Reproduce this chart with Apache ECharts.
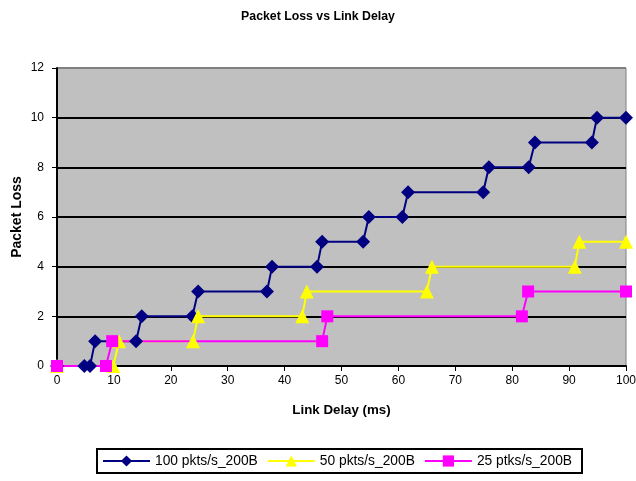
<!DOCTYPE html>
<html><head><meta charset="utf-8">
<script src="https://cdn.jsdelivr.net/npm/echarts@6/dist/echarts.min.js"></script>
<style>html,body{margin:0;padding:0;background:#fff}#c{width:636px;height:481px}</style>
</head><body><div id="c"></div>
<script>
const seriesNames = ['100 pkts/s_200B', '50 pkts/s_200B', '25 ptks/s_200B'];
const delay100 = [0, 4.8, 5.8, 6.7, 13.9, 14.9, 23.8, 24.8, 36.9, 37.8, 45.7, 46.6, 53.8, 54.8, 60.7, 61.7, 74.9, 75.9, 82.9, 84.0, 94.0, 94.9, 100];
const loss100  = [0, 0, 0, 1, 1, 2, 2, 3, 3, 4, 4, 5, 5, 6, 6, 7, 7, 8, 8, 9, 9, 10, 10];
const delay50 = [0, 9.9, 10.9, 23.9, 24.8, 43.1, 43.9, 65.0, 65.9, 91.0, 91.8, 100];
const loss50  = [0, 0, 1, 1, 2, 2, 3, 3, 4, 4, 5, 5];
const delay25 = [0, 8.6, 9.7, 46.6, 47.5, 81.7, 82.8, 100];
const loss25  = [0, 0, 1, 1, 2, 2, 3, 3];
const xTicks = [0, 10, 20, 30, 40, 50, 60, 70, 80, 90, 100];
const yTicks = [0, 2, 4, 6, 8, 10, 12];

const pair = (xs, ys) => xs.map((x, i) => [x, ys[i]]);
const font = 'Liberation Sans, Arial, sans-serif';
const chart = echarts.init(document.getElementById('c'), null, {renderer: 'canvas'});
chart.setOption({
  animation: false,
  backgroundColor: '#fff',
  title: {text: 'Packet Loss vs Link Delay', left: 'center', top: 6,
    textStyle: {fontFamily: font, fontSize: 12.3, fontWeight: 'bold', color: '#000'}},
  grid: {left: 57, right: 10, top: 68, bottom: 115, show: true, containLabel: false,
    outerBoundsMode: 'none',
    backgroundColor: '#C0C0C0', borderColor: '#808080', borderWidth: 1},
  xAxis: {type: 'value', min: xTicks[0], max: xTicks[xTicks.length - 1], interval: 10,
    name: 'Link Delay (ms)', nameLocation: 'middle', nameGap: 38, nameMoveOverlap: false,
    nameTextStyle: {fontFamily: font, fontSize: 13.3, fontWeight: 'bold', color: '#000'},
    axisLine: {lineStyle: {color: '#000', width: 2}},
    axisTick: {length: 5, lineStyle: {color: '#000', width: 1}},
    axisLabel: {fontFamily: font, fontSize: 12, color: '#000', margin: 9},
    splitLine: {show: false}},
  yAxis: {type: 'value', min: yTicks[0], max: yTicks[yTicks.length - 1], interval: 2,
    name: 'Packet Loss', nameLocation: 'middle', nameGap: 33, nameMoveOverlap: false,
    nameTextStyle: {fontFamily: font, fontSize: 14, fontWeight: 'bold', color: '#000'},
    axisLine: {show: true, lineStyle: {color: '#000', width: 2}},
    axisTick: {show: true, length: 5, lineStyle: {color: '#000', width: 1}},
    axisLabel: {fontFamily: font, fontSize: 12, color: '#000', margin: 13},
    splitLine: {show: true, lineStyle: {color: ['#000', '#000', '#000', '#000', '#000', '#000', '#808080'], width: 2}}},
  legend: {left: 97, top: 449, orient: 'horizontal',
    padding: [5, 10, 5, 5], borderColor: '#000', borderWidth: 2, backgroundColor: '#fff',
    itemWidth: 47, itemHeight: 14, itemGap: 9,
    textStyle: {fontFamily: font, fontSize: 13.8, color: '#000'},
    data: seriesNames},
  series: [
    {name: seriesNames[0], type: 'line', data: pair(delay100, loss100),
     symbol: 'diamond', symbolSize: 14, color: '#000080',
     lineStyle: {width: 2, color: '#000080'}, itemStyle: {color: '#000080'}},
    {name: seriesNames[1], type: 'line', data: pair(delay50, loss50),
     symbol: 'triangle', symbolSize: 14, color: '#FFFF00',
     lineStyle: {width: 2, color: '#FFFF00'}, itemStyle: {color: '#FFFF00'}},
    {name: seriesNames[2], type: 'line', data: pair(delay25, loss25),
     symbol: 'rect', symbolSize: 12, color: '#FF00FF',
     lineStyle: {width: 2, color: '#FF00FF'}, itemStyle: {color: '#FF00FF'}}
  ]
});
</script></body></html>
